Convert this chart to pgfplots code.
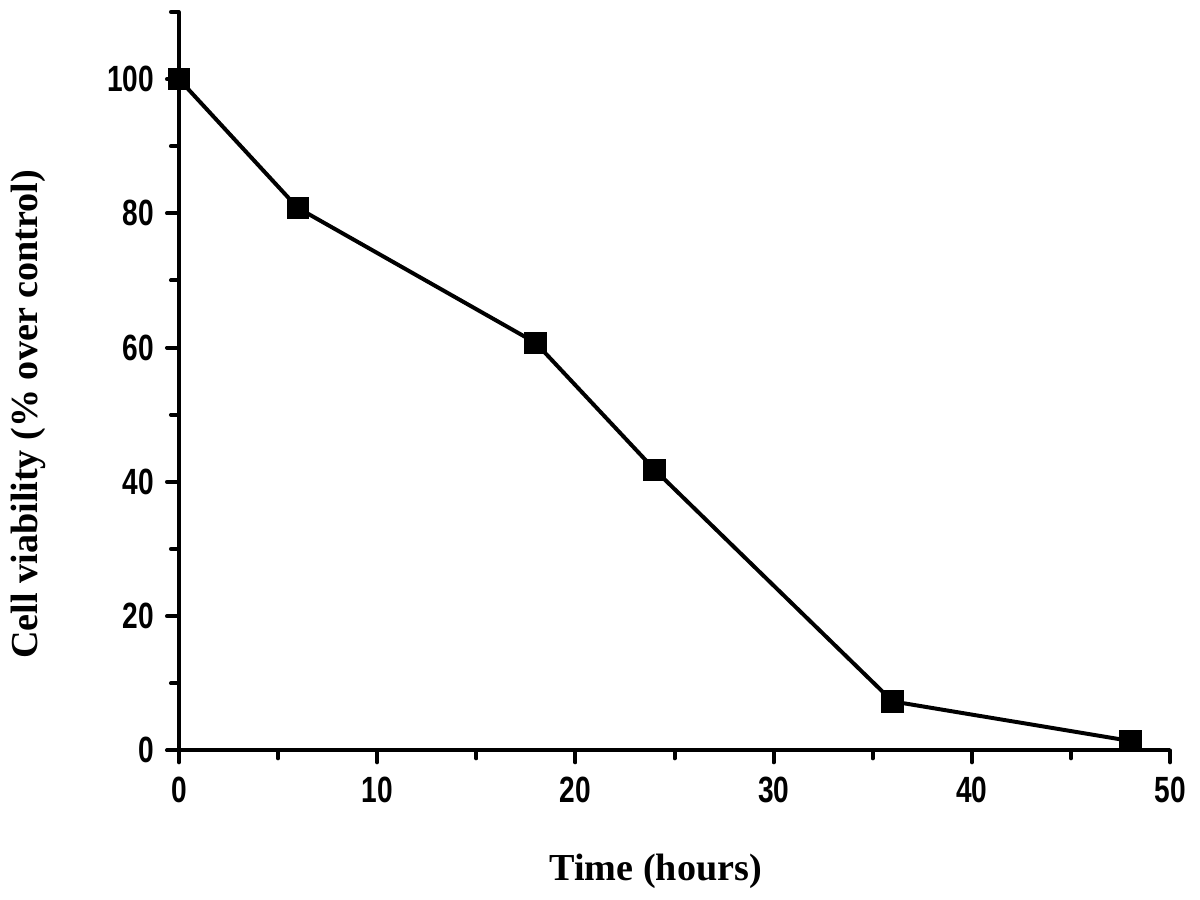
\documentclass[border=0pt]{standalone}
\usepackage{pgfplots}
\pgfplotsset{compat=1.18}
\usepackage{fontspec}
\setmainfont{Liberation Serif}
\newfontfamily\ticksans{Liberation Sans}

\begin{document}
\begin{tikzpicture}
\begin{axis}[
  width=298.8pt, height=222.6pt,
  scale only axis,
  xmin=0, xmax=50,
  ymin=0, ymax=110,
  axis x line=bottom,
  axis y line=left,
  axis line style={-, line width=1.2pt},
  xtick={0,10,...,50},
  ytick={0,20,...,100},
  minor xtick={5,15,...,45},
  minor ytick={10,30,...,110},
  tick align=outside,
  major tick length=3.6pt,
  minor tick length=2.4pt,
  every tick/.style={black, line width=1.2pt, line cap=round},
  tick label style={font=\ticksans\bfseries\fontsize{11}{12}\selectfont, xscale=0.77},
  xticklabel style={yshift=-1pt},
  yticklabel style={xshift=-1.5pt},
  /pgf/number format/assume math mode=true,
  xlabel={\textbf{Time (hours)}},
  ylabel={\textbf{Cell viability (\% over control)}},
  label style={font=\fontsize{11.5}{12}\selectfont},
  xlabel style={at={(axis description cs:0.481,-0.1766)}, anchor=base},
  ylabel style={at={(axis description cs:-0.1225,0.455)}, anchor=south},
  clip=false,
]
\addplot[black, line width=1.2pt, mark=square*, mark size=2.8pt,
  mark options={solid, fill=black}] coordinates {
  (0,100) (6,80.8) (18,60.7) (24,41.8) (36,7.3) (48,1.4)
};
% page margins as in the reference
\path (rel axis cs:0,1) ++(-52.2pt,3.6pt);
\path (rel axis cs:1,0) ++(9pt,-41.1pt);
\end{axis}
\end{tikzpicture}
\end{document}
